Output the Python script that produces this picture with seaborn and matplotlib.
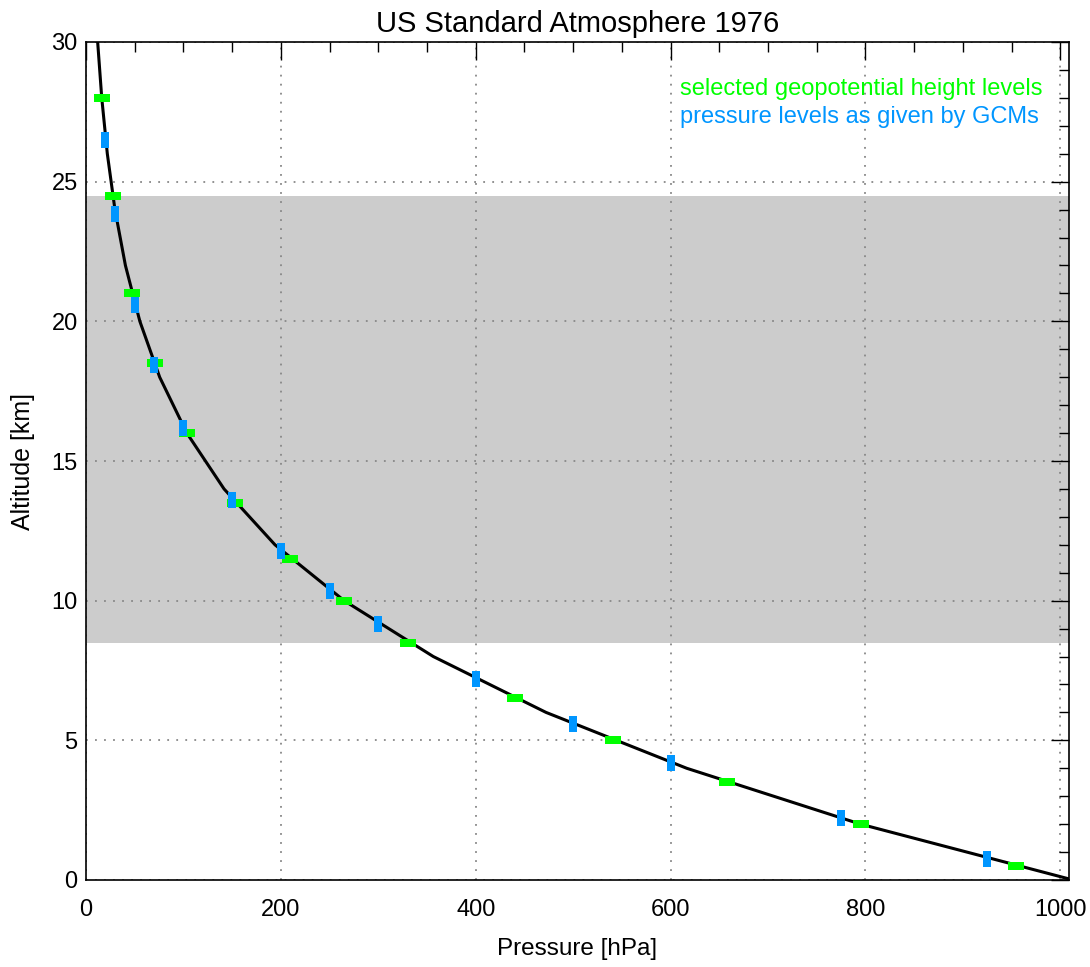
import numpy as np
import pandas as pd
import matplotlib
matplotlib.use("Agg")
import matplotlib.pyplot as plt
import seaborn as sns
from matplotlib.ticker import MultipleLocator

# ---- data ----
curve_alt_km = [0, 2, 4, 6, 8, 10, 12, 14, 16, 18, 20, 22, 24, 26, 28, 30]
curve_p_hpa = [1013.25, 795.0, 616.6, 472.2, 356.5, 265.0, 194.0, 141.7,
               103.5, 75.65, 55.29, 40.47, 29.72, 21.88, 16.16, 11.97]

geo_alt_km = [28.0, 24.5, 21.0, 18.5, 16.0, 13.5, 11.5, 10.0, 8.5, 6.5, 5.0, 3.5, 2.0, 0.5]
geo_p_hpa = [16.2, 27.5, 47.3, 70.7, 103.5, 153.0, 209.8, 265.0, 331.0, 440.7, 540.5, 657.8, 795.0, 954.6]

gcm_p_hpa = [20, 30, 50, 70, 100, 150, 200, 250, 300, 400, 500, 600, 775, 925]
gcm_alt_km = [26.5, 23.85, 20.6, 18.44, 16.18, 13.6, 11.78, 10.36, 9.16, 7.19, 5.57, 4.2, 2.21, 0.76]

band_km = [8.5, 24.5]
x_ticks = [0, 200, 400, 600, 800, 1000]
y_ticks = [0, 5, 10, 15, 20, 25, 30]

legend_texts = ["selected geopotential height levels", "pressure levels as given by GCMs"]
title = "US Standard Atmosphere 1976"

GREEN = "#00ff00"
BLUE = "#0096ff"

sns.set_style("white")
plt.rcParams["font.family"] = ["Liberation Sans", "DejaVu Sans"]
plt.rcParams["text.color"] = "black"
plt.rcParams["axes.labelcolor"] = "black"
plt.rcParams["xtick.color"] = "black"
plt.rcParams["ytick.color"] = "black"

fig = plt.figure(figsize=(10.9, 9.67), dpi=100)
ax = fig.add_axes([86 / 1090, 87 / 967, (1069 - 86) / 1090, (880 - 42) / 967])

ax.axhspan(band_km[0], band_km[1], color="#cccccc", zorder=0.3, lw=0)

curve = pd.DataFrame({"p": curve_p_hpa, "z": curve_alt_km})
sns.lineplot(data=curve, x="p", y="z", sort=False, estimator=None,
             color="black", lw=2.2, ax=ax, zorder=2)

green_marker = [(-0.5, -0.26), (0.5, -0.26), (0.5, 0.26), (-0.5, 0.26), (-0.5, -0.26)]
blue_marker = [(-0.28, -0.5), (0.28, -0.5), (0.28, 0.5), (-0.28, 0.5), (-0.28, -0.5)]

geo = pd.DataFrame({"p": geo_p_hpa, "z": geo_alt_km})
gcm = pd.DataFrame({"p": gcm_p_hpa, "z": gcm_alt_km})
sns.scatterplot(data=geo, x="p", y="z", marker=green_marker, s=125,
                color=GREEN, linewidth=0, ax=ax, zorder=3)
sns.scatterplot(data=gcm, x="p", y="z", marker=blue_marker, s=125,
                color=BLUE, linewidth=0, ax=ax, zorder=4)

ax.set_xlim(0, 1009)
ax.set_ylim(0, 30)
ax.set_xticks(x_ticks)
ax.set_yticks(y_ticks)
ax.xaxis.set_minor_locator(MultipleLocator(50))
ax.yaxis.set_minor_locator(MultipleLocator(1))
ax.tick_params(which="both", direction="in", top=True, right=True, color="black",
               labelcolor="black", labelsize=17, width=1.0)
ax.tick_params(which="major", length=13)
ax.tick_params(which="minor", length=7)
ax.tick_params(axis="x", which="major", pad=14)
ax.tick_params(axis="y", which="major", pad=6)
ax.grid(True, which="major", linestyle=(0, (1, 4)), color="#888888", lw=1.3)
ax.set_axisbelow(True)
for s in ax.spines.values():
    s.set_color("black")
    s.set_linewidth(1.2)

ax.set_xlabel("Pressure [hPa]", fontsize=17.5, labelpad=12, color="black")
ax.set_ylabel("Altitude [km]", fontsize=18, labelpad=12, color="black")
ax.set_title(title, fontsize=21, pad=7, color="black")

ax.text(610, 28.3, legend_texts[0], color=GREEN, fontsize=17, va="center")
ax.text(610, 27.3, legend_texts[1], color=BLUE, fontsize=17, va="center")

fig.savefig("out.png", dpi=100)
